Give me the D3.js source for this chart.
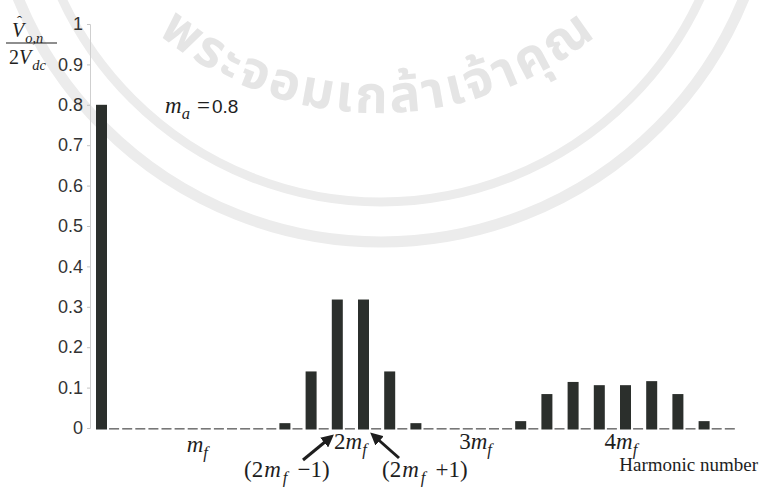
<!DOCTYPE html>
<html>
<head>
<meta charset="utf-8">
<script src="https://cdn.jsdelivr.net/npm/d3@7"></script>
<style>
  body { margin: 0; background: #fff; }
  svg { display: block; }
  .tick text { font-family: "Liberation Sans", Arial, sans-serif; font-size: 18px; fill: #333; }
  .math { font-family: "Liberation Serif", "Times New Roman", serif; fill: #1e1e1e; }
</style>
</head>
<body>
<svg id="chart" width="762" height="488"></svg>
<script>
// harmonic spectrum, unipolar PWM, ma = 0.8, mf = 10
const harmonics = d3.range(1, 50);
const harmonicOrder = [1, 15, 17, 19, 21, 23, 25, 33, 35, 37, 39, 41, 43, 45, 47];
const amplitude = [0.8, 0.012, 0.14, 0.318, 0.318, 0.14, 0.012, 0.017, 0.084, 0.114, 0.106, 0.106, 0.116, 0.084, 0.017];
const yTicks = [0, 0.1, 0.2, 0.3, 0.4, 0.5, 0.6, 0.7, 0.8, 0.9, 1];

// x labels: multiples of mf, placed where they sit in the figure
const mfLabels = ['', '2', '3', '4'];
const mfLabelPos = [7.5, 18.75, 28.3, 39.4];

const width = 762;
const height = 488;
const svg = d3.select('#chart');

const x = d3.scaleLinear().domain([1, 49]).range([101.5, 730.3]);
const y = d3.scaleLinear().domain([0, 1]).range([428, 24]);
const barW = 11;

const ampByN = new Map(harmonicOrder.map((n, i) => [n, amplitude[i]]));

// faint watermark (scanned thesis page) behind the chart
const cx = 381, cy = -150;
const wm = svg.append('g').attr('fill', 'none').attr('stroke', '#ececec');
wm.append('circle').attr('cx', cx).attr('cy', cy).attr('r', 392).attr('stroke-width', 11);
wm.append('circle').attr('cx', cx).attr('cy', cy).attr('r', 352).attr('stroke-width', 9);
const tcx = 378, tcy = -232, rt = 345;
svg.append('defs').append('path')
  .attr('id', 'wmArc')
  .attr('d', `M${tcx - rt},${tcy} A${rt},${rt} 0 0 0 ${tcx + rt},${tcy}`);
svg.append('text')
  .attr('font-family', '"Noto Sans Thai", Loma, Garuda, sans-serif')
  .attr('font-size', 52)
  .attr('font-weight', 'bold')
  .attr('letter-spacing', 3)
  .attr('fill', '#e5e5e5')
  .append('textPath')
  .attr('href', '#wmArc')
  .attr('startOffset', '50%')
  .attr('text-anchor', 'middle')
  .text('พระจอมเกล้าเจ้าคุณ');

// y axis
const yAxis = d3.axisLeft(y).tickValues(yTicks).tickSize(3).tickPadding(4)
  .tickFormat(d => d === 0 || d === 1 ? d3.format('d')(d) : d3.format('.1f')(d));
const gy = svg.append('g').attr('transform', 'translate(90,0)').call(yAxis);
gy.select('.domain').attr('stroke', '#cfcfcf').attr('stroke-width', 1);
gy.selectAll('.tick line').attr('stroke', '#c4c4c4');

// zero harmonics drawn as short dashes on the baseline
svg.append('g').selectAll('rect')
  .data(harmonics.filter(n => !ampByN.has(n)))
  .join('rect')
  .attr('x', n => x(n) - barW / 2)
  .attr('y', y(0))
  .attr('width', barW - 1)
  .attr('height', 1.6)
  .attr('fill', '#777');

// bars
svg.append('g').selectAll('rect')
  .data(harmonicOrder)
  .join('rect')
  .attr('x', n => x(n) - barW / 2)
  .attr('y', n => y(ampByN.get(n)))
  .attr('width', barW)
  .attr('height', n => y(0) + 1.5 - y(ampByN.get(n)))
  .attr('fill', '#2b2f2c');

// helper for small math expressions: parts = [text, style, dx]
// style: 'i' italic, 's' italic subscript, 'u' upright
function mathText(px, py, size, parts) {
  const t = svg.append('text').attr('class', 'math').attr('x', px).attr('y', py).attr('font-size', size);
  let low = false;
  parts.forEach(([s, st, dx]) => {
    const ts = t.append('tspan').text(s);
    if (dx) ts.attr('dx', dx);
    if (st === 's') {
      ts.attr('font-style', 'italic').attr('font-size', size * 0.72).attr('dy', low ? 0 : size * 0.28);
      low = true;
    } else {
      if (low) ts.attr('dy', -size * 0.28);
      low = false;
      ts.attr('font-style', st === 'i' ? 'italic' : 'normal');
    }
  });
  return t;
}

// y label: V^_{o,n} / 2V_dc
mathText(12, 37, 20, [['V', 'i'], ['o,n', 's', 1]]);
svg.append('text').attr('class', 'math').attr('x', 17).attr('y', 26).attr('font-size', 15).text('ˆ');
svg.append('line').attr('x1', 6).attr('x2', 57).attr('y1', 43).attr('y2', 43).attr('stroke', '#1e1e1e').attr('stroke-width', 1.2);
mathText(9, 64, 20, [['2', 'u'], ['V', 'i'], ['dc', 's', 1]]);

// ma annotation
const ma = mathText(165, 113, 23, [['m', 'i'], ['a', 's'], ['=', 'u', 7]]);
ma.append('tspan').attr('font-family', '"Liberation Sans", Arial, sans-serif').attr('font-size', 19).attr('dx', 2).text('0.8');

// mf labels along the axis
mfLabels.forEach((k, i) => {
  mathText(x(mfLabelPos[i]), i === 0 ? 452 : 449, 23, [[k, 'u'], ['m', 'i'], ['f', 's']]);
});

// sideband labels and arrows
mathText(244, 477, 23, [['(2', 'u'], ['m', 'i', 1], ['f', 's', 2], ['\u22121)', 'u', 10]]);
mathText(382, 477, 23, [['(2', 'u'], ['m', 'i', 1], ['f', 's', 2], ['+1)', 'u', 10]]);

svg.append('defs').append('marker')
  .attr('id', 'head').attr('viewBox', '0 0 10 10').attr('refX', 7).attr('refY', 5)
  .attr('markerWidth', 4.2).attr('markerHeight', 4.2).attr('orient', 'auto')
  .append('path').attr('d', 'M0,0L10,5L0,10Z').attr('fill', '#1e1e1e');

const arrows = [[303, 460, 331, 437], [399, 458, 373, 435]];
svg.append('g').selectAll('line')
  .data(arrows)
  .join('line')
  .attr('x1', d => d[0]).attr('y1', d => d[1])
  .attr('x2', d => d[2]).attr('y2', d => d[3])
  .attr('stroke', '#1e1e1e').attr('stroke-width', 3)
  .attr('marker-end', 'url(#head)');

svg.append('text').attr('class', 'math').attr('x', 758).attr('y', 471).attr('font-size', 19)
  .attr('text-anchor', 'end')
  .text('Harmonic number');
</script>
</body>
</html>
